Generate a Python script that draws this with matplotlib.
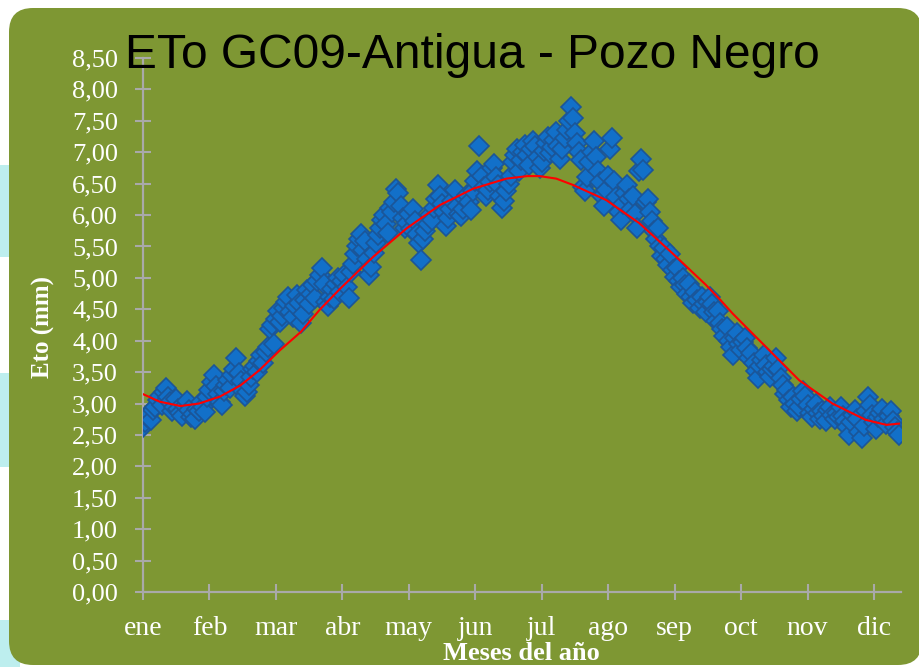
import matplotlib
matplotlib.use("Agg")
import matplotlib.pyplot as plt
from matplotlib.patches import FancyBboxPatch, Rectangle
from matplotlib.transforms import IdentityTransform

# daily ETo (mm), month by month
ene = [2.62, 2.70, 2.78, 2.85, 2.74, 2.90, 2.95, 3.05, 3.12, 2.98, 3.18, 3.25, 3.10, 3.02, 2.88, 2.95,
       3.08, 2.92, 2.85, 2.80, 2.96, 3.04, 2.90, 2.78, 2.84, 2.75, 2.92, 2.88, 3.02, 2.95, 2.86]
feb = [3.10, 3.22, 3.35, 3.46, 3.28, 3.15, 3.02, 2.98, 3.20, 3.30, 3.38, 3.25, 3.45, 3.55, 3.72, 3.48,
       3.36, 3.20, 3.12, 3.18, 3.30, 3.42, 3.55, 3.60, 3.50, 3.68, 3.78, 3.65]
mar = [3.82, 3.90, 4.18, 4.25, 3.95, 4.35, 4.48, 4.30, 4.40, 4.52, 4.62, 4.70, 4.45, 4.38, 4.55, 4.72,
       4.60, 4.28, 4.42, 4.65, 4.80, 4.58, 4.75, 4.88, 4.68, 4.95, 5.05, 5.15, 4.90, 4.62, 4.55]
abr = [4.70, 4.82, 4.66, 4.90, 5.00, 4.78, 4.95, 5.05, 4.85, 4.68, 5.10, 5.22, 5.38, 5.50, 5.62, 5.70,
       5.45, 5.58, 5.30, 5.05, 5.18, 5.40, 5.55, 5.68, 5.80, 5.92, 6.00, 5.85, 5.72, 6.12]
may = [6.05, 6.20, 6.42, 6.35, 6.15, 5.95, 5.80, 5.88, 6.02, 5.78, 6.10, 5.90, 5.70, 5.55, 5.28, 5.62,
       5.75, 5.85, 6.00, 5.92, 6.12, 6.25, 6.48, 6.30, 6.18, 6.05, 5.82, 5.95, 6.10, 6.22, 6.40]
jun = [6.15, 6.02, 5.98, 6.10, 6.25, 6.32, 6.20, 6.08, 6.38, 6.55, 6.70, 7.10, 6.62, 6.45, 6.30, 6.40,
       6.52, 6.75, 6.82, 6.60, 6.48, 6.30, 6.12, 6.22, 6.38, 6.50, 6.62, 6.85, 6.95, 7.05]
jul = [6.70, 6.88, 7.00, 7.12, 6.95, 6.80, 7.05, 7.18, 7.10, 6.92, 6.75, 6.85, 7.02, 7.15, 7.25, 6.98,
       7.08, 7.20, 7.32, 7.10, 6.90, 7.05, 7.22, 7.35, 7.50, 7.72, 7.55, 7.30, 7.15, 7.00, 6.88]
ago = [6.45, 6.38, 6.60, 6.85, 7.00, 7.18, 6.92, 6.70, 6.52, 6.30, 6.15, 6.40, 6.62, 7.05, 7.22, 6.55,
       6.28, 6.05, 5.92, 6.18, 6.35, 6.48, 6.25, 6.10, 6.30, 6.02, 5.80, 6.70, 6.90, 6.72, 6.20]
sep = [6.25, 6.05, 5.90, 5.75, 5.62, 5.80, 5.50, 5.35, 5.48, 5.30, 5.20, 5.38, 5.12, 5.02, 5.15, 4.95,
       4.85, 5.00, 4.88, 4.75, 4.90, 4.70, 4.60, 4.78, 4.65, 4.52, 4.70, 4.58, 4.45, 4.62]
oct_ = [4.70, 4.58, 4.45, 4.32, 4.48, 4.28, 4.18, 4.08, 4.22, 4.00, 3.90, 3.78, 4.05, 4.12, 3.95, 3.85,
        3.98, 4.05, 3.88, 3.72, 3.80, 3.65, 3.52, 3.40, 3.60, 3.70, 3.78, 3.62, 3.50, 3.42, 3.55]
nov = [3.60, 3.72, 3.55, 3.40, 3.30, 3.15, 3.22, 3.05, 2.95, 3.10, 3.00, 2.88, 2.95, 3.08, 3.20, 3.12,
       2.98, 2.85, 2.78, 2.92, 3.00, 2.85, 2.75, 2.88, 2.80, 2.72, 2.90, 2.95, 2.82, 2.76]
dic = [2.85, 2.78, 2.95, 2.80, 2.72, 2.62, 2.50, 2.70, 2.82, 2.90, 2.75, 2.55, 2.45, 2.65, 2.88, 3.10,
       2.98, 2.82, 2.70, 2.60, 2.78, 2.85, 2.92, 2.75, 2.68, 2.80, 2.88, 2.72, 2.62, 2.55, 2.50]

eto = ene + feb + mar + abr + may + jun + jul + ago + sep + oct_ + nov + dic
dias = list(range(1, len(eto) + 1))

# fitted trend (red line), read at points along the curve
curva_dia = [1, 9, 19, 28, 38, 48, 57, 67, 77, 86, 96, 112, 128, 144, 160, 176, 186, 192, 200, 208,
             224, 240, 256, 272, 279, 285, 301, 317, 333, 349, 359, 365]
curva_eto = [3.15, 3.03, 2.96, 3.00, 3.11, 3.29, 3.53, 3.85, 4.14, 4.49, 4.83, 5.34, 5.79, 6.16, 6.42,
             6.58, 6.62, 6.62, 6.58, 6.48, 6.24, 5.87, 5.39, 4.89, 4.65, 4.43, 3.90, 3.37, 3.00, 2.74,
             2.66, 2.68]

meses = ['ene', 'feb', 'mar', 'abr', 'may', 'jun', 'jul', 'ago', 'sep', 'oct', 'nov', 'dic']
mes_ticks = [1 + 32 * i for i in range(12)]
y_ticks = [i * 0.5 for i in range(18)]
y_labels = [('%.2f' % v).replace('.', ',') for v in y_ticks]

verde = '#7e9733'
gris = '#a9a9a9'

fig = plt.figure(figsize=(9.2, 6.67), dpi=100, facecolor='white')

# light cyan shapes peeking out on the left, then the green card (behind the axes)
for (y0, h) in [(410, 92), (200, 94), (0, 47)]:
    fig.patches.append(Rectangle((0, y0), 20, h, transform=IdentityTransform(),
                                 facecolor='#bdeeee', edgecolor='none', zorder=-3))
fig.patches.append(FancyBboxPatch((9, 2), 913, 657, boxstyle='round,pad=0,rounding_size=24',
                                  transform=IdentityTransform(), facecolor=verde,
                                  edgecolor='none', zorder=-2))

ax = fig.add_axes([143 / 920, 1 - 592 / 667, (901 - 143) / 920, (592 - 58) / 667])
ax.patch.set_alpha(0)

ax.plot(dias, eto, linestyle='none', marker='D', markersize=10,
        markerfacecolor='#1270c9', markeredgecolor='#1b5598', markeredgewidth=1.2, zorder=3)
ax.plot(curva_dia, curva_eto, color='#ff0000', linewidth=1.5, zorder=4)

ax.set_xlim(1, 366)
ax.set_ylim(0, 8.5)

for s in ['top', 'right']:
    ax.spines[s].set_visible(False)
for s in ['left', 'bottom']:
    ax.spines[s].set_color(gris)
    ax.spines[s].set_linewidth(1.6)

ax.set_xticks(mes_ticks)
ax.set_xticklabels(meses)
ax.set_yticks(y_ticks)
ax.set_yticklabels(y_labels)
ax.tick_params(direction='inout', length=12, width=1.5, color=gris, labelcolor='white')
ax.tick_params(axis='x', pad=11)
ax.tick_params(axis='y', pad=12)
for lab in ax.get_xticklabels():
    lab.set_family('Liberation Serif')
    lab.set_fontsize(20)
for lab in ax.get_yticklabels():
    lab.set_family('Liberation Serif')
    lab.set_fontsize(19)

ax.set_xlabel('Meses del año', family='Liberation Serif', fontsize=19, fontweight='bold',
              color='white', va='center')
ax.xaxis.set_label_coords((521 - 143) / 758, (592 - 654) / 534)
ax.set_ylabel('Eto (mm)', family='Liberation Serif', fontsize=18, fontweight='bold',
              color='white', va='center')
ax.yaxis.set_label_coords((43 - 143) / 758, (592 - 327) / 534)

fig.text(472 / 920, 1 - 56 / 667, 'ETo GC09-Antigua - Pozo Negro', family='Liberation Sans',
         fontsize=34.5, color='black', ha='center', va='center')

fig.savefig('out.png', dpi=100, facecolor='white')
